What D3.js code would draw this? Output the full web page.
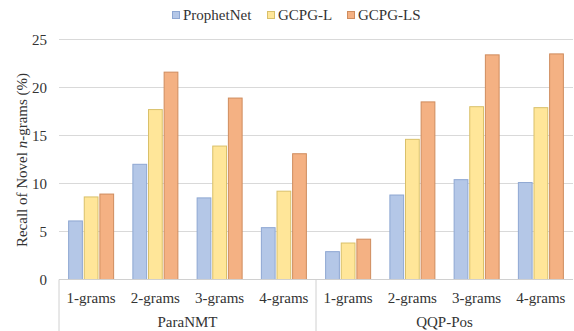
<!DOCTYPE html>
<html><head><meta charset="utf-8">
<script src="https://cdn.jsdelivr.net/npm/d3@7"></script>
<style>body{margin:0;background:#fff}svg{display:block;font-family:"Liberation Serif","Times New Roman",serif}</style>
</head><body>
<script>
const groups = ["ParaNMT", "QQP-Pos"];
const ngrams = ["1-grams", "2-grams", "3-grams", "4-grams"];
const seriesNames = ["ProphetNet", "GCPG-L", "GCPG-LS"];
const prophetNet = [6.1, 12.0, 8.5, 5.4, 2.9, 8.8, 10.4, 10.1];
const gcpgL = [8.6, 17.7, 13.9, 9.2, 3.8, 14.6, 18.0, 17.9];
const gcpgLS = [8.9, 21.6, 18.9, 13.1, 4.2, 18.5, 23.4, 23.5];
const yTicks = [0, 5, 10, 15, 20, 25];
const fills = ["#b4c7e7", "#ffe699", "#f4b183"];
const strokes = ["#8ea7d2", "#d9c06a", "#cf8c5e"];

(function () {
const W = 574, H = 331;
const mLeft = 59, mRight = 573, mTop = 39.5, mBottom = 279.5;
const svg = d3.select("body").append("svg").attr("width", W).attr("height", H);

const cats = [];
groups.forEach(g => ngrams.forEach(n => cats.push(g + "|" + n)));
const x = d3.scaleBand().domain(cats).range([mLeft, mRight]);
const xs = d3.scaleBand().domain(seriesNames).range([0, 45]).paddingInner(0.12);
const y = d3.scaleLinear().domain([0, 25]).range([mBottom, mTop]);

// gridlines
svg.append("g").selectAll("line").data(yTicks.slice(1)).join("line")
  .attr("x1", mLeft).attr("x2", mRight).attr("y1", d => y(d)).attr("y2", d => y(d))
  .attr("stroke", "#d9d9d9").attr("stroke-width", 1);

// y axis labels
const yAxis = d3.axisLeft(y).tickValues(yTicks).tickSize(0).tickPadding(12);
const ya = svg.append("g").attr("transform", `translate(${mLeft},0)`).call(yAxis);
ya.select(".domain").remove();
ya.selectAll("text").attr("font-size", 15).attr("fill", "#333").attr("font-family", "Liberation Serif");

// bars
const data = [prophetNet, gcpgL, gcpgLS];
data.forEach((vals, si) => {
  svg.append("g").selectAll("rect").data(vals).join("rect")
    .attr("x", (d, i) => x(cats[i]) + (x.bandwidth() - 45) / 2 + xs(seriesNames[si]))
    .attr("y", d => y(d))
    .attr("width", xs.bandwidth())
    .attr("height", d => y(0) - y(d))
    .attr("fill", fills[si]).attr("stroke", strokes[si]).attr("stroke-width", 1);
});

// baseline axis
svg.append("line").attr("x1", mLeft).attr("x2", mRight).attr("y1", mBottom).attr("y2", mBottom)
  .attr("stroke", "#d0d0d0").attr("stroke-width", 1);
// group separators
[0, 4].forEach(i => {
  svg.append("line").attr("x1", x(cats[i])).attr("x2", x(cats[i])).attr("y1", mBottom).attr("y2", H)
    .attr("stroke", "#d0d0d0").attr("stroke-width", 1);
});

// category labels
svg.append("g").selectAll("text").data(cats).join("text")
  .attr("x", d => x(d) + x.bandwidth() / 2).attr("y", 303)
  .attr("text-anchor", "middle").attr("font-size", 15).attr("fill", "#333")
  .text(d => d.split("|")[1]);

// group labels
groups.forEach((g, gi) => {
  const x0 = x(cats[gi * 4]), x1 = x(cats[gi * 4 + 3]) + x.bandwidth();
  svg.append("text").attr("x", (x0 + x1) / 2).attr("y", 327)
    .attr("text-anchor", "middle").attr("font-size", 15).attr("fill", "#333").text(g);
});

// y title
const yt = svg.append("text").attr("transform", `translate(27,160) rotate(-90)`)
  .attr("text-anchor", "middle").attr("font-size", 15).attr("fill", "#333");
yt.append("tspan").text("Recall of Novel ");
yt.append("tspan").attr("font-style", "italic").text("n");
yt.append("tspan").text("-grams (%)");

// legend
const legX = [172, 267, 347];
seriesNames.forEach((s, i) => {
  const gL = svg.append("g").attr("transform", `translate(${legX[i]},0)`);
  gL.append("rect").attr("x", 0.5).attr("y", 11.5).attr("width", 7).attr("height", 7)
    .attr("fill", fills[i]).attr("stroke", strokes[i]);
  gL.append("text").attr("x", 11).attr("y", 20).attr("font-size", 15).attr("fill", "#333").text(s);
});
})();
</script>
</body></html>
